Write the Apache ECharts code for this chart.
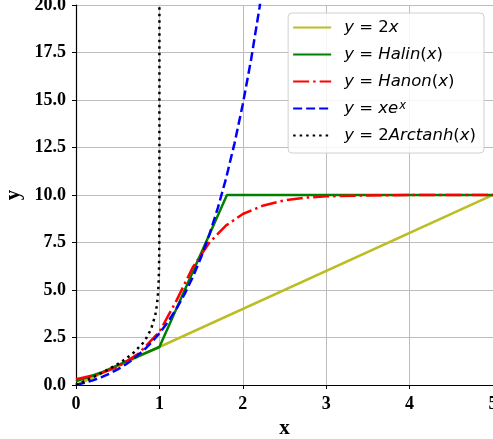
<!DOCTYPE html>
<html>
<head>
<meta charset="utf-8">
<script src="https://cdn.jsdelivr.net/npm/echarts@6/dist/echarts.min.js"></script>
<style>
html,body{margin:0;padding:0;background:#fff;}
#chart{width:493px;height:439px;}
</style>
</head>
<body>
<div id="chart"></div>
<script>
// ---- data ----
var xTicks = [0, 1, 2, 3, 4, 5];
var yTicks = [0, 2.5, 5, 7.5, 10, 12.5, 15, 17.5, 20];

var lin2x = [[0, 0], [5, 10]];
var halin = [[0, 0.2], [0.33, 0.7], [0.63, 1.3], [1.0, 2.0], [1.81, 10.0], [5.0, 10.0]];
var hanon = [[0, 0.3], [0.25, 0.55], [0.5, 0.95], [0.75, 1.65], [1.0, 2.8], [1.2, 4.4],
             [1.4, 6.2], [1.6, 7.5], [1.8, 8.4], [2.0, 9.0], [2.25, 9.45], [2.5, 9.72],
             [2.75, 9.86], [3.0, 9.93], [3.5, 9.98], [4.0, 10.0], [5.0, 10.0]];
var xexp = [[0, 0], [0.1, 0.11], [0.2, 0.244], [0.3, 0.405], [0.4, 0.597], [0.5, 0.824],
            [0.6, 1.093], [0.7, 1.41], [0.8, 1.78], [0.9, 2.214], [1.0, 2.718], [1.1, 3.305],
            [1.2, 3.984], [1.3, 4.77], [1.4, 5.677], [1.5, 6.722], [1.6, 7.924], [1.7, 9.305],
            [1.8, 10.889], [1.9, 12.705], [2.0, 14.778], [2.1, 17.146], [2.2, 19.855], [2.3, 22.95]];
var arctanh2 = [[0, 0], [0.1, 0.201], [0.2, 0.405], [0.3, 0.619], [0.4, 0.847], [0.5, 1.099],
                [0.6, 1.386], [0.7, 1.735], [0.8, 2.197], [0.85, 2.513], [0.9, 2.944],
                [0.95, 3.664], [0.97, 4.193], [0.98, 4.595], [0.99, 5.293], [0.995, 5.992],
                [0.998, 6.907], [0.999, 7.6], [0.9999, 9.903], [0.99999, 12.2],
                [0.999999, 14.5], [0.9999999, 16.8], [0.99999999, 19.1], [0.999999999, 21.4]];

var names = ['2x', 'Halin', 'Hanon', 'xex', 'Arctanh'];
var legendLabels = {
  '2x': '{i|y} = 2{i|x}',
  'Halin': '{i|y} = {i|Halin}({i|x})',
  'Hanon': '{i|y} = {i|Hanon}({i|x})',
  'xex': '{i|y} = {i|xe}{sup|x}',
  'Arctanh': '{i|y} = 2{i|Arctanh}({i|x})'
};

var chart = echarts.init(document.getElementById('chart'));
var serifBold = {fontFamily: 'Liberation Serif', fontWeight: 'bold', color: '#000'};

function lineSeries(name, data, color, type) {
  return {
    name: name, type: 'line', data: data, showSymbol: false, symbol: 'none',
    clip: true, animation: false,
    lineStyle: {color: color, width: 2.5, type: type, cap: 'butt'},
    itemStyle: {color: color}
  };
}

chart.setOption({
  animation: false,
  backgroundColor: '#fff',
  grid: {left: 76, right: 0, top: 5, bottom: 54, containLabel: false, outerBoundsMode: 'none'},
  xAxis: [{
    type: 'value', min: 0, max: 5, interval: 1,
    name: 'x', nameLocation: 'middle', nameGap: 29,
    nameTextStyle: Object.assign({fontSize: 21}, serifBold),
    axisLine: {show: true, onZero: false, lineStyle: {color: '#000', width: 1.2}},
    axisTick: {show: true, length: 4, lineStyle: {color: '#000'}},
    axisLabel: Object.assign({fontSize: 18, margin: 10}, serifBold),
    splitLine: {show: true, lineStyle: {color: '#bdbdbd', width: 1}}
  }, {
    type: 'value', min: 0, max: 5, position: 'top',
    axisLine: {show: true, lineStyle: {color: '#000', width: 1.2}},
    axisTick: {show: false}, axisLabel: {show: false}, splitLine: {show: false}
  }],
  yAxis: {
    type: 'value', min: 0, max: 20, interval: 2.5,
    name: 'y', nameLocation: 'middle', nameGap: 52, nameRotate: 90,
    nameTextStyle: Object.assign({fontSize: 21}, serifBold),
    axisLine: {show: true, onZero: false, lineStyle: {color: '#000', width: 1.2}},
    axisTick: {show: true, length: 4, lineStyle: {color: '#000'}},
    axisLabel: Object.assign({fontSize: 18, margin: 10,
      formatter: function (v) { return v.toFixed(1); }}, serifBold),
    splitLine: {show: true, lineStyle: {color: '#bdbdbd', width: 1}}
  },
  legend: {
    data: names, orient: 'vertical', right: 9, top: 13,
    itemWidth: 38, itemHeight: 16, itemGap: 10,
    padding: [6, 8, 9, 4],
    backgroundColor: 'rgba(255,255,255,0.85)',
    borderColor: '#d0d0d0', borderWidth: 1, borderRadius: 4,
    itemStyle: {opacity: 0},
    formatter: function (n) { return legendLabels[n]; },
    textStyle: {
      fontFamily: 'DejaVu Sans', fontSize: 16.5, color: '#000', lineHeight: 16,
      padding: [0, 0, 0, 8],
      rich: {
        i: {fontFamily: 'DejaVu Sans', fontStyle: 'italic', fontSize: 16.5, color: '#000', lineHeight: 16},
        sup: {fontFamily: 'DejaVu Sans', fontStyle: 'italic', fontSize: 11.5, color: '#000',
              lineHeight: 10, verticalAlign: 'top', padding: [0, 0, 0, 1]}
      }
    }
  },
  series: [
    lineSeries('2x', lin2x, '#bcbd22', 'solid'),
    lineSeries('Halin', halin, '#008000', 'solid'),
    lineSeries('Hanon', hanon, '#ff0000', [16, 4, 2.5, 4]),
    lineSeries('xex', xexp, '#0000ff', [9, 4]),
    lineSeries('Arctanh', arctanh2, '#000000', [2.5, 4])
  ]
});
</script>
</body>
</html>
